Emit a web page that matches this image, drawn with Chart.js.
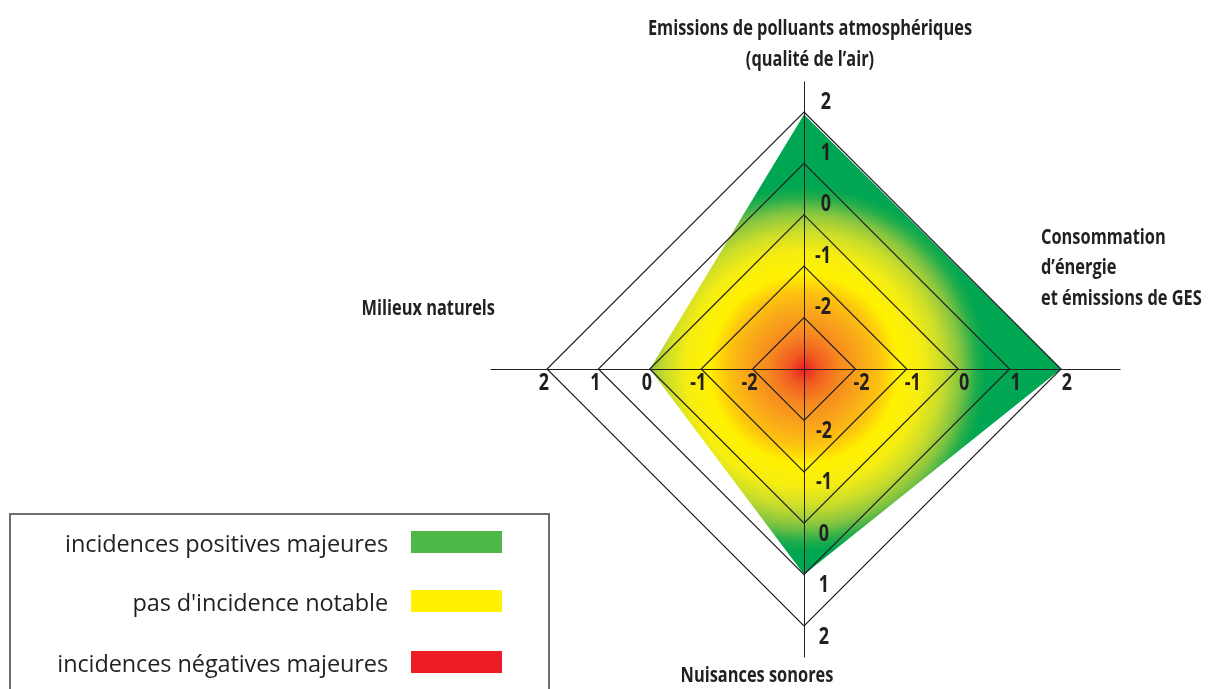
<!DOCTYPE html>
<html>
<head>
<meta charset="utf-8">
<script src="https://cdn.jsdelivr.net/npm/chart.js@4.4.1/dist/chart.umd.min.js"></script>
<style>
  html, body { margin: 0; padding: 0; background: #fff; }
  #wrap { position: relative; width: 1223px; height: 689px; overflow: hidden; }
  #wrap canvas { position: absolute; left: 0; top: 0; }
  #legend { position: absolute; left: 9px; top: 513px; width: 541px; height: 220px;
            border: 2px solid #6d6e71; box-sizing: border-box; }
  .lg-text { position: absolute; left: 0; width: 377px; text-align: right;
             font-family: "Open Sans", "Noto Sans", sans-serif; font-size: 23.5px;
             color: #231f20; line-height: 22px; letter-spacing: -0.1px; }
  .lg-box { position: absolute; left: 400px; width: 91px; height: 22px; }
</style>
</head>
<body>
<div id="wrap">
  <canvas id="radar" width="1223" height="689"></canvas>
  <div id="legend"></div>
</div>
<script>
// axes, clockwise from the top
var axisLabels = [
  ["Emissions de polluants atmosphériques", "(qualité de l’air)"],
  ["Consommation", "d’énergie", "et émissions de GES"],
  ["Nuisances sonores"],
  ["Milieux naturels"]
];
var axisValues = [1.95, 2, 1, 0];
var tickValues = [-2, -1, 0, 1, 2];
var scaleMin = -3;
var scaleMax = 2;

var legendLabels = ["incidences positives majeures", "pas d'incidence notable", "incidences négatives majeures"];
var legendColors = ["#4db848", "#fff200", "#ed1c24"];

var inkColor = "#231f20";
var boldFont = '"Open Sans", "Noto Sans", sans-serif';

function buildLegend() {
  var box = document.getElementById("legend");
  var tops = [16, 75, 136];
  for (var i = 0; i < legendLabels.length; i++) {
    var t = document.createElement("div");
    t.className = "lg-text";
    t.style.top = (tops[i] + 1) + "px";
    t.textContent = legendLabels[i];
    box.appendChild(t);
    var s = document.createElement("div");
    s.className = "lg-box";
    s.style.top = tops[i] + "px";
    s.style.background = legendColors[i];
    box.appendChild(s);
  }
}

// no condensed bold font installed, so squeeze the text horizontally
function squeezeText(ctx, text, x, y, align, sx) {
  var w = ctx.measureText(text).width * sx;
  var left = x;
  if (align === "center") left = x - w / 2;
  if (align === "right") left = x - w;
  ctx.save();
  ctx.textAlign = "left";
  ctx.translate(left, y);
  ctx.scale(sx, 1);
  ctx.fillText(text, 0, 0);
  ctx.restore();
}

// red in the middle, green on the outside
function radialFill(context) {
  var chart = context.chart;
  var r = chart.scales.r;
  if (!chart.chartArea || !r) return "#fff200";
  var g = chart.ctx.createRadialGradient(r.xCenter, r.yCenter, 0, r.xCenter, r.yCenter, r.drawingArea);
  g.addColorStop(0, "#ed1c24");
  g.addColorStop(0.06, "#f15a22");
  g.addColorStop(0.14, "#f6891f");
  g.addColorStop(0.22, "#f9a51a");
  g.addColorStop(0.3, "#fcc40f");
  g.addColorStop(0.37, "#fff200");
  g.addColorStop(0.46, "#f6ed12");
  g.addColorStop(0.54, "#c8dc2c");
  g.addColorStop(0.61, "#84c441");
  g.addColorStop(0.67, "#22ad4b");
  g.addColorStop(0.71, "#00a651");
  g.addColorStop(1, "#00a651");
  return g;
}

var axisPlugin = {
  id: "axisPlugin",
  afterDatasetsDraw: function(chart) {
    var r = chart.scales.r;
    var ctx = chart.ctx;
    var n = axisLabels.length;
    var R = r.drawingArea;
    ctx.save();
    ctx.strokeStyle = inkColor;
    ctx.lineWidth = 1.2;

    // rings on top of the fill
    tickValues.forEach(function(v) {
      ctx.beginPath();
      for (var i = 0; i < n; i++) {
        var p = r.getPointPositionForValue(i, v);
        if (i === 0) ctx.moveTo(p.x, p.y); else ctx.lineTo(p.x, p.y);
      }
      ctx.closePath();
      ctx.stroke();
    });

    // axis lines, a bit past the outer ring (half pixel so they stay sharp)
    ctx.lineWidth = 1;
    var ext = [1.12, 1.23, 1.12, 1.22];
    for (var i = 0; i < n; i++) {
      var p = r.getPointPosition(i, R * ext[i]);
      ctx.beginPath();
      ctx.moveTo(Math.round(r.xCenter) + 0.5, Math.round(r.yCenter) + 0.5);
      ctx.lineTo(Math.round(p.x) + 0.5, Math.round(p.y) + 0.5);
      ctx.stroke();
    }

    // tick numbers on every axis
    ctx.fillStyle = inkColor;
    ctx.font = "bold 23px " + boldFont;
    ctx.textBaseline = "middle";
    var offs = [[27, -10, "right"], [6, 14, "center"], [20, 11, "center"], [-3, 14, "center"]];
    tickValues.forEach(function(v) {
      for (var i = 0; i < n; i++) {
        var p = r.getPointPositionForValue(i, v);
        squeezeText(ctx, String(v), p.x + offs[i][0], p.y + offs[i][1], offs[i][2], 0.78);
      }
    });

    // axis titles
    ctx.font = "bold 21px " + boldFont;
    var cx = r.xCenter, cy = r.yCenter;
    var titlePos = [
      [cx + 6, cy - R - 83, 31, "center"],
      [cx + R - 20, cy - 131, 30.5, "left"],
      [cx - 47, cy + R + 50, 30, "center"],
      [cx - R - 52, cy - 60, 30, "right"]
    ];
    for (var k = 0; k < n; k++) {
      for (var j = 0; j < axisLabels[k].length; j++) {
        squeezeText(ctx, axisLabels[k][j], titlePos[k][0], titlePos[k][1] + j * titlePos[k][2], titlePos[k][3], 0.78);
      }
    }
    ctx.restore();
  }
};

function init() {
  buildLegend();
  var ctx = document.getElementById("radar").getContext("2d");
  var chart = new Chart(ctx, {
    // The type of chart we want to create
    type: "radar",

    // The data for our dataset
    data: {
      labels: axisLabels,
      datasets: [{
        data: axisValues,
        fill: "start",
        backgroundColor: radialFill,
        borderWidth: 0,
        pointRadius: 0
      }]
    },
    options: {
      responsive: false,
      animation: false,
      layout: { padding: { left: 547, right: 162, top: 112, bottom: 63 } },
      plugins: { legend: { display: false }, tooltip: { enabled: false } },
      scales: {
        r: {
          min: scaleMin,
          max: scaleMax,
          ticks: { display: false, stepSize: 1 },
          grid: { display: false },
          angleLines: { display: false },
          pointLabels: { display: false }
        }
      }
    },
    plugins: [axisPlugin]
  });
}

init();
</script>
</body>
</html>
